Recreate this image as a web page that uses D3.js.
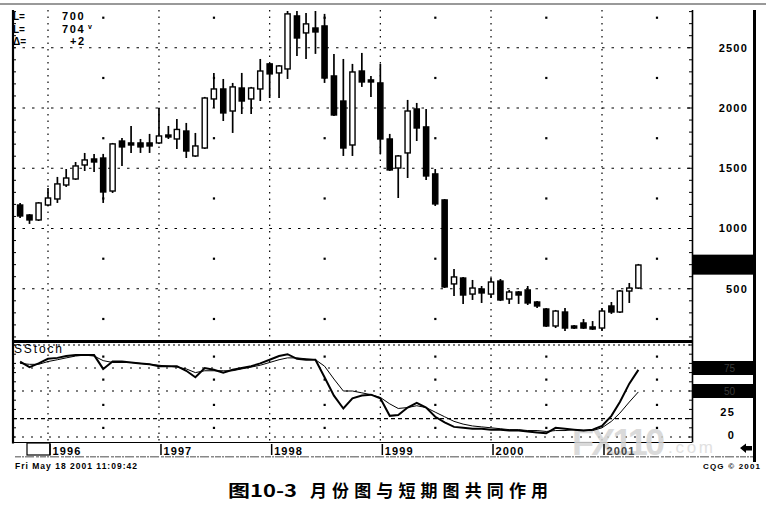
<!DOCTYPE html>
<html><head><meta charset="utf-8">
<script src="https://cdn.jsdelivr.net/npm/d3@7"></script>
<style>body{margin:0;background:#fff}svg{display:block}</style>
</head><body><svg id="c" width="766" height="508"></svg>
<script>
// ---- data ----
const months = ["1995-10","1995-11","1995-12",
"1996-01","1996-02","1996-03","1996-04","1996-05","1996-06","1996-07","1996-08","1996-09","1996-10","1996-11","1996-12",
"1997-01","1997-02","1997-03","1997-04","1997-05","1997-06","1997-07","1997-08","1997-09","1997-10","1997-11","1997-12",
"1998-01","1998-02","1998-03","1998-04","1998-05","1998-06","1998-07","1998-08","1998-09","1998-10","1998-11","1998-12",
"1999-01","1999-02","1999-03","1999-04","1999-05","1999-06","1999-07","1999-08","1999-09","1999-10","1999-11","1999-12",
"2000-01","2000-02","2000-03","2000-04","2000-05","2000-06","2000-07","2000-08","2000-09","2000-10","2000-11","2000-12",
"2001-01","2001-02","2001-03","2001-04","2001-05"];
const openV  = [1195,1112,1071,1195,1245,1361,1411,1527,1577,1585,1311,1726,1710,1710,1710,1710,1776,1743,1809,1602,1668,2075,2158,1975,2166,2075,2158,2366,2291,2324,2764,2623,2664,2681,2266,2058,1693,2307,2233,2208,1743,1502,1627,1992,1843,1453,1237,540,589,456,498,456,564,415,473,490,390,332,191,307,191,216,183,174,357,307,481,506];
const highV  = [1212,1120,1220,1336,1428,1494,1552,1627,1619,1619,1710,1751,1851,1743,1785,2000,1851,1909,1876,1793,2092,2291,2241,2208,2291,2175,2407,2374,2357,2805,2805,2789,2805,2781,2449,2407,2366,2457,2266,2366,1785,1610,2067,2042,1992,1494,1245,664,598,573,523,589,581,490,481,523,398,340,324,340,199,249,232,340,390,490,548,706];
const lowV   = [1087,1038,1062,1187,1212,1345,1403,1477,1469,1212,1295,1519,1627,1627,1627,1702,1743,1660,1585,1594,1660,2000,1892,1793,1950,1950,2058,2083,2083,2241,2432,2407,2449,2208,1934,1602,1602,2175,2092,1619,1477,1253,1419,1726,1403,1187,506,440,374,407,382,423,398,374,374,365,340,183,174,149,166,166,158,149,291,299,382,498];
const closeV = [1104,1071,1212,1253,1370,1419,1519,1569,1552,1303,1702,1677,1693,1677,1685,1768,1760,1822,1643,1685,2083,2158,1959,2175,2058,2166,2307,2283,2349,2781,2581,2698,2631,2249,1942,1668,2299,2216,2216,1743,1486,1602,1975,1834,1436,1204,515,598,448,506,465,556,407,473,448,382,357,191,315,174,174,174,166,315,307,481,506,697];
const stochK = [82,76,80,85,86,88,89,89,89,74,82,82,81,80,79,77,77,77,72,65,75,73,70,73,75,77,80,84,88,90,85,84,84,65,45,31,42,45,46,42,23,24,32,37,32,22,16,11,10,9,9,8,8,7,7,6,5,4,10,9,8,7,8,12,23,38,58,73];
const stochD = [80,79,79,82,84,86,88,89,88,83,81,81,81,80,79,78,77,76,74,70,72,72,72,72,74,76,78,81,84,86,86,85,84,77,63,50,50,48,46,43,36,31,32,34,32,27,22,17,14,12,11,10,9,8,8,7,7,6,7,7,8,7,7,10,17,26,38,49];
const priceTicks = [500,1000,1500,2000,2500];
const priceMid = [250,750,1250,1750,2250,2750];
const years = ["1996","1997","1998","1999","2000","2001"];
const midYears = ["1996-07","1997-07","1998-07","1999-07","2000-07","2001-07"];
const stochDotted = [100,75,50,0];
const stochDashed = [20];
const stochMid = [87.5,62.5,35,10];
const stochLabels = ["25","0"];
const stochLabelVals = [25,0];
const markerVals = [75,50];
const headKeys = ["L=","L=","\u0394="];
const headVals = ["700","704","+2"];
const lastPrice = 700;
const stampText = "Fri May 18 2001 11:09:42";
const copyText = "CQG \u00a9 2001";
const captionA = "图10-3";
const captionB = "月份图与短期图共同作用";

// ---- scales ----
const parse = d3.timeParse("%Y-%m");
const parseY = d3.timeParse("%Y");
const x = d3.scaleTime().domain([parseY("1996"), parseY("2001")]).range([48, 602]);
const y = d3.scaleLinear().domain([0, 2500]).range([349, 47.75]);
const ys = d3.scaleLinear().domain([0, 100]).range([437, 345]);
const L = 13, R = 692, TOP = 10, SEP = 341.5, BOT = 442.5;
const svg = d3.select("#c");
const F = "'Liberation Sans', Arial, sans-serif";

// frame
svg.append("line").attr("x1",0).attr("x2",766).attr("y1",4).attr("y2",4).attr("stroke","#999").attr("stroke-width",2);

// grid – price horizontals
const g = svg.append("g").attr("stroke","#000").attr("fill","none");
g.selectAll(".ph").data(priceTicks).join("line")
  .attr("x1",L).attr("x2",R).attr("y1",d=>y(d)).attr("y2",d=>y(d))
  .attr("stroke-width",1.2).attr("stroke-dasharray","2.5,7");
// vertical year lines
g.selectAll(".yv").data(years).join("line")
  .attr("x1",d=>x(parseY(d))).attr("x2",d=>x(parseY(d))).attr("y1",TOP).attr("y2",BOT)
  .attr("stroke-width",1.2).attr("stroke-dasharray","1.5,5");
// stoch horizontals
g.selectAll(".sh").data(stochDotted).join("line")
  .attr("x1",L).attr("x2",R).attr("y1",d=>ys(d)).attr("y2",d=>ys(d))
  .attr("stroke-width",1.2).attr("stroke-dasharray",(d,i)=>i===0?"2,3":"2,7");
g.selectAll(".sd").data(stochDashed).join("line")
  .attr("x1",L).attr("x2",R).attr("y1",d=>ys(d)).attr("y2",d=>ys(d))
  .attr("stroke-width",1.2).attr("stroke-dasharray","4,3");
// mid dots
const dots = [];
midYears.forEach(m=>{ priceMid.forEach(p=>dots.push([x(parse(m)), y(p)])); stochMid.forEach(s=>dots.push([x(parse(m)), ys(s)])); });
svg.append("g").selectAll("rect").data(dots.filter(d=>d[0]<R-2)).join("rect")
  .attr("x",d=>d[0]-1).attr("y",d=>d[1]-1).attr("width",2.2).attr("height",2.2).attr("fill","#000");

// axes lines
svg.append("line").attr("x1",L).attr("x2",L).attr("y1",TOP).attr("y2",BOT+1).attr("stroke","#000").attr("stroke-width",2.2);
svg.append("line").attr("x1",R+0.5).attr("x2",R+0.5).attr("y1",TOP).attr("y2",BOT).attr("stroke","#000").attr("stroke-width",1.6);
svg.append("line").attr("x1",754.5).attr("x2",754.5).attr("y1",TOP).attr("y2",462).attr("stroke","#000").attr("stroke-width",3);
svg.append("line").attr("x1",L).attr("x2",R).attr("y1",SEP).attr("y2",SEP).attr("stroke","#000").attr("stroke-width",3);
svg.append("line").attr("x1",L).attr("x2",R).attr("y1",BOT).attr("y2",BOT).attr("stroke","#000").attr("stroke-width",1.2);

// minor ticks
const pt = d3.range(0, 2900, 100).filter(v=>y(v)>=TOP && y(v)<=SEP-2);
svg.append("g").selectAll("line").data(pt).join("line")
  .attr("x1",L).attr("x2",L+3).attr("y1",d=>y(d)).attr("y2",d=>y(d)).attr("stroke","#000").attr("stroke-width",1);
svg.append("g").selectAll("line").data(pt).join("line")
  .attr("x1",d=>d%500===0?R-5:R-3).attr("x2",R).attr("y1",d=>y(d)).attr("y2",d=>y(d)).attr("stroke","#000").attr("stroke-width",1);
const st = d3.range(0, 101, 10);
svg.append("g").selectAll("line").data(st).join("line")
  .attr("x1",L).attr("x2",L+3).attr("y1",d=>ys(d)).attr("y2",d=>ys(d)).attr("stroke","#000").attr("stroke-width",1);
svg.append("g").selectAll("line").data(st).join("line")
  .attr("x1",R-3).attr("x2",R).attr("y1",d=>ys(d)).attr("y2",d=>ys(d)).attr("stroke","#000").attr("stroke-width",1);

// price labels right
svg.append("g").selectAll("text").data(priceTicks).join("text")
  .attr("x",748).attr("y",d=>y(d)).attr("dy","0.36em").attr("text-anchor","end")
  .attr("font-family",F).attr("font-weight","bold").attr("font-size",11).attr("letter-spacing",1.2)
  .text(d=>d);
// marker boxes
svg.append("rect").attr("x",R+1).attr("width",753-R-1).attr("y",y(lastPrice)-10).attr("height",20).attr("fill","#000");
svg.append("g").selectAll("rect").data(markerVals).join("rect")
  .attr("x",R+1).attr("width",753-R-1).attr("y",d=>ys(d)-7).attr("height",14).attr("fill","#000");
svg.append("g").selectAll("text").data(markerVals).join("text")
  .attr("x",735).attr("y",d=>ys(d)).attr("dy","0.36em").attr("text-anchor","end")
  .attr("font-family",F).attr("font-size",10).attr("fill","#3a3a3a").text(d=>d);
// stoch labels
svg.append("g").selectAll("text").data(stochLabels).join("text")
  .attr("x",735).attr("y",(d,i)=>ys(stochLabelVals[i])-2).attr("dy","0.36em").attr("text-anchor","end")
  .attr("font-family",F).attr("font-weight","bold").attr("font-size",11).attr("letter-spacing",1.2)
  .text(d=>d);

// header
svg.append("g").selectAll("text").data(headKeys).join("text")
  .attr("x",13).attr("y",(d,i)=>20+i*12.5).attr("font-family",F).attr("font-weight","bold").attr("font-size",10).text(d=>d);
svg.append("g").selectAll("text").data(headVals).join("text")
  .attr("x",(d,i)=>i===2?70:62).attr("y",(d,i)=>20+i*12.5).attr("font-family",F).attr("font-weight","bold")
  .attr("font-size",11).attr("letter-spacing",1.6).text(d=>d);
svg.append("text").attr("x",88).attr("y",29).attr("font-family",F).attr("font-weight","bold").attr("font-size",7).text("v");

// SStoch label
svg.append("text").attr("x",14).attr("y",353).attr("font-family",F).attr("font-size",12).attr("textLength",48).text("SStoch");

// candles
const data = months.map((m,i)=>({d:parse(m), o:openV[i], h:highV[i], l:lowV[i], c:closeV[i]}));
const cg = svg.append("g");
cg.selectAll("line").data(data).join("line")
  .attr("x1",d=>x(d.d)).attr("x2",d=>x(d.d)).attr("y1",d=>y(d.h)).attr("y2",d=>y(d.l))
  .attr("stroke","#000").attr("stroke-width",1.7);
cg.selectAll("rect").data(data).join("rect")
  .attr("x",d=>x(d.d)-2.6).attr("width",5.2)
  .attr("y",d=>Math.min(y(d.o),y(d.c)))
  .attr("height",d=>Math.max(2,Math.abs(y(d.o)-y(d.c))))
  .attr("fill",d=>d.c>=d.o?"#fff":"#000").attr("stroke","#000").attr("stroke-width",1.4);

// watermark
svg.append("text").attr("x",572).attr("y",455).attr("font-family",F).attr("font-weight","bold").attr("font-size",36)
  .attr("textLength",93).attr("fill","#d4d4d4").attr("opacity",0.85).text("FX110");
svg.append("text").attr("x",668).attr("y",453).attr("font-family",F).attr("font-size",17)
  .attr("textLength",45).attr("fill","#dcdcdc").attr("opacity",0.85).text(".com");

// stoch lines
const idx = d3.range(months.length);
const lineK = d3.line().x(i=>x(parse(months[i]))).y(i=>ys(stochK[i]));
const lineD = d3.line().x(i=>x(parse(months[i]))).y(i=>ys(stochD[i]));
svg.append("path").attr("d",lineD(idx)).attr("fill","none").attr("stroke","#000").attr("stroke-width",1);
svg.append("path").attr("d",lineK(idx)).attr("fill","none").attr("stroke","#000").attr("stroke-width",2);

// date axis row
svg.append("rect").attr("x",27).attr("y",443).attr("width",23).attr("height",12).attr("fill","none").attr("stroke","#000").attr("stroke-width",1.2);
svg.append("g").selectAll("line").data(years).join("line")
  .attr("x1",d=>x(parseY(d))+2).attr("x2",d=>x(parseY(d))+2).attr("y1",444).attr("y2",455)
  .attr("stroke","#000").attr("stroke-width",1.5);
svg.append("g").selectAll("text").data(years).join("text")
  .attr("x",d=>x(parseY(d))+4.5).attr("y",454.5).attr("font-family",F).attr("font-weight","bold")
  .attr("font-size",11).attr("letter-spacing",1.1).attr("fill",(d,i)=>i===5?"#444":"#000").text(d=>d);
svg.append("line").attr("x1",15).attr("x2",753).attr("y1",456.8).attr("y2",456.8).attr("stroke","#888")
  .attr("stroke-width",1.6).attr("stroke-dasharray","6,1,2,1,9,2,3,1");
svg.append("path").attr("d","M740,448 l6,-4.5 v2.5 h6 v4.5 h-6 v2.5 z").attr("fill","#000");

// footer texts
svg.append("text").attr("x",15).attr("y",469).attr("font-family",F).attr("font-weight","bold").attr("font-size",8.5)
  .attr("textLength",122).text(stampText);
svg.append("text").attr("x",703).attr("y",469).attr("font-family",F).attr("font-weight","bold").attr("font-size",8)
  .attr("textLength",57).text(copyText);

// caption
const CF = "'Noto Sans CJK SC', sans-serif";
svg.append("text").attr("x",228).attr("y",497).attr("font-family",CF).attr("font-weight","bold").attr("font-size",17)
  .attr("textLength",69).attr("lengthAdjust","spacingAndGlyphs").text(captionA);
svg.append("text").attr("x",310).attr("y",497).attr("font-family",CF).attr("font-weight","bold").attr("font-size",17)
  .attr("textLength",238).text(captionB);
</script></body></html>
